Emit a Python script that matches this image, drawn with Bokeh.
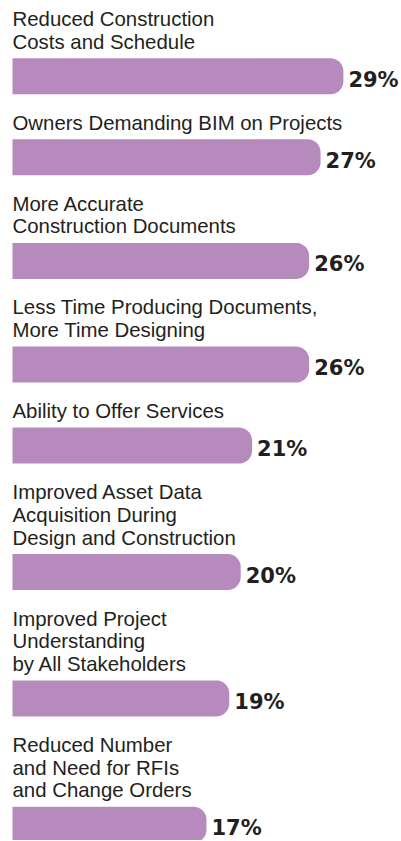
import numpy as np
from bokeh.plotting import figure
from bokeh.models import Range1d
from bokeh.core.properties import value
from bokeh.embed import file_html
from bokeh.resources import INLINE

# ---- data ----
categories = [
    "Reduced Construction\nCosts and Schedule",
    "Owners Demanding BIM on Projects",
    "More Accurate\nConstruction Documents",
    "Less Time Producing Documents,\nMore Time Designing",
    "Ability to Offer Services",
    "Improved Asset Data\nAcquisition During\nDesign and Construction",
    "Improved Project\nUnderstanding\nby All Stakeholders",
    "Reduced Number\nand Need for RFIs\nand Change Orders",
]
values = [29, 27, 26, 26, 21, 20, 19, 17]
value_labels = [f"{v}%" for v in values]

# ---- style / layout constants ----
W, H = 400, 840
PX = 11.41           # pixels per percentage point
X0 = 12              # left offset of bars (px)
LINE_H = 22.7        # label line height
FIRST_BASE = 25      # first baseline
TEXT_TO_BAR = 10
BAR_H = 36
BAR_TO_TEXT = 35
R = 13               # corner radius (px)
TEXT_DY = -6.5       # renderer baseline correction
BAR_COLOR = "#b78abe"
TEXT_COLOR = "#231f20"

p = figure(width=W, height=H, output_backend="svg", toolbar_location=None,
           x_range=Range1d(-X0 / PX, (W - X0) / PX), y_range=Range1d(H, 0),
           x_axis_location=None, y_axis_location=None, min_border=0)
p.grid.visible = False
p.outline_line_color = None
p.background_fill_color = "white"
p.border_fill_color = "white"

line_x, line_y, line_t = [], [], []
xs, ys = [], []
lab_x, lab_y = [], []

base = FIRST_BASE
for cat, v in zip(categories, values):
    lines = cat.split("\n")
    for i, ln in enumerate(lines):
        line_x.append(0)
        line_y.append(base + i * LINE_H + TEXT_DY)
        line_t.append(ln)
    top = base + (len(lines) - 1) * LINE_H + TEXT_TO_BAR
    bot = top + BAR_H
    rx = R / PX
    a1 = np.linspace(np.pi / 2, 0, 10)
    a2 = np.linspace(0, -np.pi / 2, 10)
    bx = [0, v - rx] + list(v - rx + rx * np.cos(a1)) + list(v - rx + rx * np.cos(a2)) + [v - rx, 0]
    by = [top, top] + list(top + R - R * np.sin(a1)) + list(bot - R - R * np.sin(a2)) + [bot, bot]
    xs.append(bx)
    ys.append(by)
    lab_x.append(v + 5 / PX)
    lab_y.append((top + bot) / 2 + 10 + TEXT_DY)
    base = bot + BAR_TO_TEXT

p.patches(xs=xs, ys=ys, fill_color=BAR_COLOR, line_color=None)

p.text(x=line_x, y=line_y, text=line_t, text_font=value("Liberation Sans"),
       text_font_size=value("20.4px"), text_color=TEXT_COLOR,
       text_baseline="alphabetic", text_align="left")

p.text(x=lab_x, y=lab_y, text=value_labels, text_font=value("DejaVu Sans"),
       text_font_style="bold", text_font_size=value("21px"), text_color=TEXT_COLOR,
       text_baseline="alphabetic", text_align="left")

open("out.html", "w").write(file_html(p, INLINE))
